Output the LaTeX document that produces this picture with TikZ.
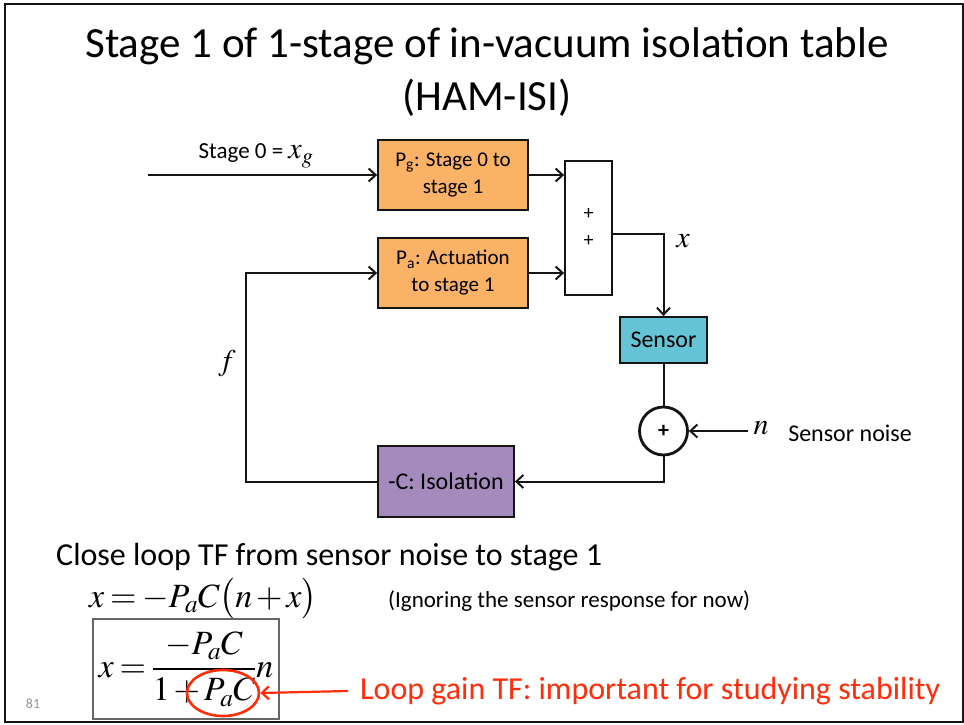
\documentclass[tikz,border=0pt]{standalone}
\usepackage{amsmath}
\usepackage{mathptmx}
\usepackage[no-math]{fontspec}
\setmainfont{Carlito}
\usetikzlibrary{arrows.meta,positioning,shapes.geometric,calc}
\definecolor{ink}{RGB}{20,20,20}
\definecolor{plantorange}{RGB}{250,178,102}
\definecolor{sensorcyan}{RGB}{100,196,214}
\definecolor{ctrlpurple}{RGB}{165,139,189}
\definecolor{loopred}{RGB}{255,45,10}
\definecolor{pagegray}{RGB}{150,150,150}
\tikzset{
  blockbox/.style={draw=ink,line width=1.8pt,align=center,inner sep=2pt,
    font=\fontsize{24}{27}\selectfont},
  link/.style={draw=ink,line width=2pt,-{Straight Barb[length=7pt,width=13pt]}},
  wire/.style={draw=ink,line width=2pt},
  redlink/.style={draw=loopred,line width=2.2pt,-{Straight Barb[length=7pt,width=13pt]}}
}
\newcommand{\tightmath}{\medmuskip=2mu\thickmuskip=3mu}

\begin{document}
\begin{tikzpicture}[x=1pt,y=-1pt]
    \useasboundingbox (0,0) rectangle (964,725);
    \draw[ink,line width=2.5pt] (5,4) rectangle (963,722);
    \node (title) [align=center,font=\fontsize{43}{53}\selectfont]
      at (487,72) {Stage 1 of 1-stage of in-vacuum isolation table\\(HAM-ISI)};

    \node (pg) [blockbox,fill=plantorange,minimum width=150pt,minimum height=70pt,
      font=\fontsize{21}{27}\selectfont]
      at (453,175) {P\textsubscript{g}: Stage 0 to\\stage 1};
    \node (pa) [blockbox,fill=plantorange,minimum width=150pt,minimum height=70pt,
      font=\fontsize{21}{27}\selectfont]
      at (453,273) {P\textsubscript{a}: Actuation\\to stage 1};
    \node (sum) [blockbox,fill=white,minimum width=47pt,minimum height=134pt,
      font=\fontsize{20}{27}\selectfont]
      at (588.5,228) {+\\+};
    \node (sensor) [blockbox,fill=sensorcyan,minimum width=87pt,minimum height=46pt]
      at (663.5,340) {Sensor};
    \node (junction) [circle,draw=ink,line width=2.8pt,minimum size=48pt,inner sep=0pt,
      font=\fontsize{22}{22}\selectfont\bfseries] at (663.5,431) {+};
    \node (iso) [blockbox,fill=ctrlpurple,minimum width=136pt,minimum height=71pt]
      at (446,481.5) {-C: Isolation};

    \coordinate (xgin) at (148,175);
    \coordinate (noise) at (748,431);
    \coordinate (fbcorner) at (246,273);

    \draw[link] (xgin) -- (pg.west);
    \draw[link] (pg.east) -- (pg.east -| sum.west);
    \draw[link] (pa.east) -- (pa.east -| sum.west);
    \draw[link] ([yshift=-6pt]sum.east) -| (sensor.north);
    \draw[wire] (sensor.south) -- (junction.north);
    \draw[link] (noise) -- (junction.east);
    \draw[link] (junction.south) |- (iso.east);
    \draw[link] (iso.west) -| (fbcorner) -- (pa.west);

    \node (xglabel) [font=\fontsize{23}{26}\selectfont] at (256,156)
      {Stage 0 = \fontsize{30}{30}\selectfont$x_g$};
    \node (xlabel) [font=\fontsize{30}{30}\selectfont] at (683,241) {$x$};
    \node (flabel) [font=\fontsize{30}{30}\selectfont] at (227,364) {$f$};
    \node (nlabel) [font=\fontsize{30}{30}\selectfont] at (761,428) {$n$};
    \node (noiselabel) [font=\fontsize{24}{27}\selectfont] at (850,433) {Sensor noise};

    \node (closeloop) [anchor=west,inner sep=0pt,font=\fontsize{32}{36}\selectfont]
      at (56,557) {Close loop TF from sensor noise to stage 1};
    \node (eqloop) [anchor=west,inner sep=0pt,font=\fontsize{34}{38}\selectfont]
      at (89,599) {$\tightmath x=-P_aC\bigl(n+x\bigr)$};
    \node (ignoring) [anchor=west,inner sep=0pt,font=\fontsize{23}{26}\selectfont]
      at (388,601) {(Ignoring the sensor response for now)};
    \node (tf) [draw=black!60,line width=1.2pt,minimum width=186pt,minimum height=100pt,
      inner sep=0pt,font=\fontsize{34}{38}\selectfont]
      at (186,669) {$\tightmath x=\dfrac{-P_aC}{1+P_aC}n$};
    \node (loopgain) [ellipse,draw=loopred,line width=2.6pt,minimum width=72pt,
      minimum height=46pt] at (223,693) {};
    \node (gaintext) [anchor=west,inner sep=0pt,text=loopred,font=\fontsize{32}{36}\selectfont]
      at (360,691) {Loop gain TF: important for studying stability};
    \draw[redlink] ([xshift=-12pt]gaintext.west) -- (loopgain.east);
    \node (pagenum) [text=pagegray,font=\fontsize{14}{16}\selectfont] at (33,704) {81};
  \end{tikzpicture}
\end{document}
